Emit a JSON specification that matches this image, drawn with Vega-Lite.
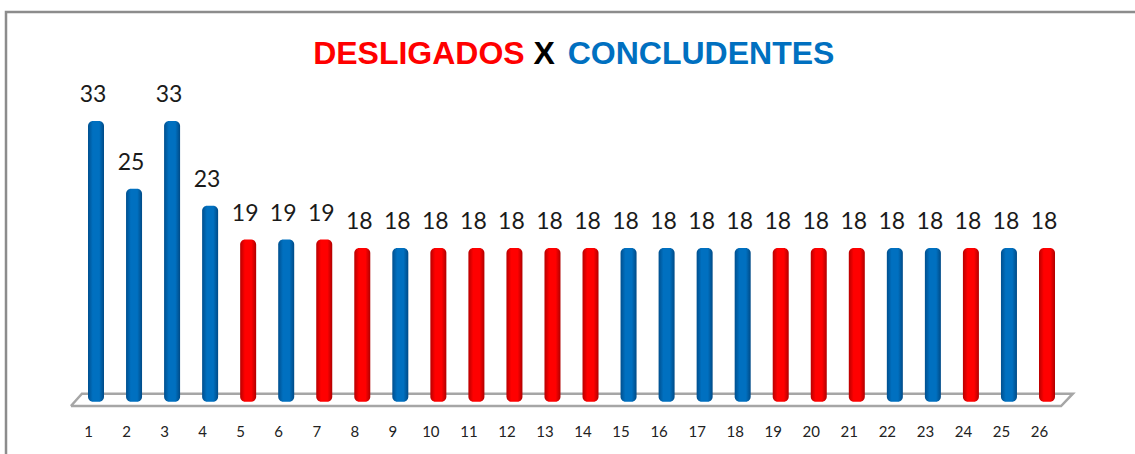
{"$schema":"https://vega.github.io/schema/vega-lite/v6.json","width":1135,"height":450,"autosize":"none","padding":{"left":6,"top":12,"right":0,"bottom":0},"background":"white","config":{"view":{"stroke":"#8c8c8c","strokeWidth":2.5}},"datasets":{"bars":[{"n":1,"v":33,"tipo":"Concludente"},{"n":2,"v":25,"tipo":"Concludente"},{"n":3,"v":33,"tipo":"Concludente"},{"n":4,"v":23,"tipo":"Concludente"},{"n":5,"v":19,"tipo":"Desligado"},{"n":6,"v":19,"tipo":"Concludente"},{"n":7,"v":19,"tipo":"Desligado"},{"n":8,"v":18,"tipo":"Desligado"},{"n":9,"v":18,"tipo":"Concludente"},{"n":10,"v":18,"tipo":"Desligado"},{"n":11,"v":18,"tipo":"Desligado"},{"n":12,"v":18,"tipo":"Desligado"},{"n":13,"v":18,"tipo":"Desligado"},{"n":14,"v":18,"tipo":"Desligado"},{"n":15,"v":18,"tipo":"Concludente"},{"n":16,"v":18,"tipo":"Concludente"},{"n":17,"v":18,"tipo":"Concludente"},{"n":18,"v":18,"tipo":"Concludente"},{"n":19,"v":18,"tipo":"Desligado"},{"n":20,"v":18,"tipo":"Desligado"},{"n":21,"v":18,"tipo":"Desligado"},{"n":22,"v":18,"tipo":"Concludente"},{"n":23,"v":18,"tipo":"Concludente"},{"n":24,"v":18,"tipo":"Desligado"},{"n":25,"v":18,"tipo":"Concludente"},{"n":26,"v":18,"tipo":"Desligado"}],"piso":[{"o":1,"x":0.34,"y":-0.65},{"o":2,"x":0.63,"y":0.8},{"o":3,"x":26.68,"y":0.8},{"o":4,"x":26.37,"y":-0.65},{"o":5,"x":0.34,"y":-0.65}]},"layer":[{"data":{"name":"piso"},"mark":{"type":"line","color":"#a6a6a6","strokeWidth":2.5,"interpolate":"linear"},"encoding":{"x":{"field":"x","type":"quantitative","scale":{"domain":[1,26],"range":[90,1041],"zero":false,"nice":false,"padding":0},"axis":{"values":[1,2,3,4,5,6,7,8,9,10,11,12,13,14,15,16,17,18,19,20,21,22,23,24,25,26],"title":null,"grid":false,"domain":false,"ticks":false,"labelFontSize":15,"labelFont":"Lato","labelColor":"#222222","labelOffset":-8,"labelPadding":0,"labelFlush":false,"labelOverlap":false,"offset":-38,"format":"d"}},"y":{"field":"y","type":"quantitative","scale":{"domain":[0,41],"range":[388.5,41.2],"nice":false,"padding":0},"axis":null},"order":{"field":"o"}}},{"data":{"name":"bars"},"transform":[{"filter":"datum.tipo === 'Concludente'"}],"mark":{"type":"bar","width":16,"cornerRadius":5,"color":{"gradient":"linear","x1":0,"x2":1,"y1":0,"y2":0,"stops":[{"offset":0,"color":"#004f8e"},{"offset":0.3,"color":"#0070c0"},{"offset":0.7,"color":"#0070c0"},{"offset":1,"color":"#004a86"}]}},"encoding":{"x":{"field":"n","type":"quantitative"},"y":{"field":"v","type":"quantitative"},"y2":{"datum":-0.15}}},{"data":{"name":"bars"},"transform":[{"filter":"datum.tipo === 'Desligado'"}],"mark":{"type":"bar","width":16,"cornerRadius":5,"color":{"gradient":"linear","x1":0,"x2":1,"y1":0,"y2":0,"stops":[{"offset":0,"color":"#b80000"},{"offset":0.3,"color":"#ff0000"},{"offset":0.7,"color":"#ff0000"},{"offset":1,"color":"#b00000"}]}},"encoding":{"x":{"field":"n","type":"quantitative"},"y":{"field":"v","type":"quantitative"},"y2":{"datum":-0.15}}},{"data":{"name":"bars"},"mark":{"type":"text","font":"Lato","fontSize":23,"color":"#1a1a1a","dx":-3,"dy":-26},"encoding":{"x":{"field":"n","type":"quantitative"},"y":{"field":"v","type":"quantitative"},"text":{"field":"v","type":"quantitative"}}},{"data":{"values":[{"t":"DESLIGADOS","c":12.27,"h":40.9}]},"mark":{"type":"text","font":"Liberation Sans","fontWeight":"bold","fontSize":32,"color":"#ff0000","align":"right"},"encoding":{"x":{"field":"c","type":"quantitative"},"y":{"field":"h","type":"quantitative"},"text":{"field":"t"}}},{"data":{"values":[{"t":"X","c":12.78,"h":40.9}]},"mark":{"type":"text","font":"Liberation Sans","fontWeight":"bold","fontSize":32,"color":"#000000","align":"center"},"encoding":{"x":{"field":"c","type":"quantitative"},"y":{"field":"h","type":"quantitative"},"text":{"field":"t"}}},{"data":{"values":[{"t":"CONCLUDENTES","c":13.4,"h":40.9}]},"mark":{"type":"text","font":"Liberation Sans","fontWeight":"bold","fontSize":32,"color":"#0070c0","align":"left"},"encoding":{"x":{"field":"c","type":"quantitative"},"y":{"field":"h","type":"quantitative"},"text":{"field":"t"}}}]}
